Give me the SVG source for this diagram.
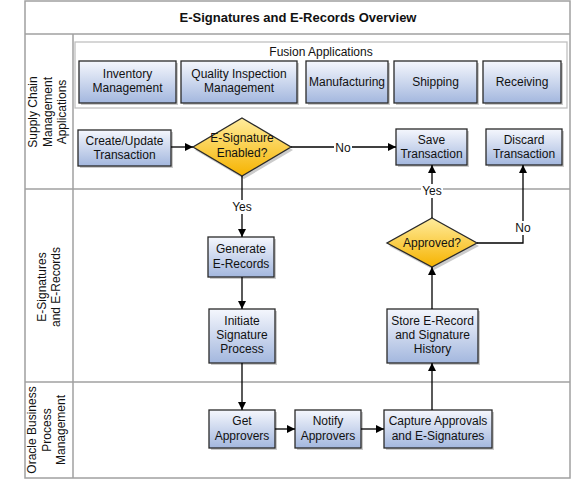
<svg xmlns="http://www.w3.org/2000/svg" width="572" height="479" viewBox="0 0 572 479">
<defs>
<linearGradient id="gBox" x1="0" y1="0" x2="0" y2="1">
<stop offset="0" stop-color="#f5f7fd"/>
<stop offset="1" stop-color="#a3b7de"/>
</linearGradient>
<linearGradient id="gDia" x1="0" y1="0" x2="0" y2="1">
<stop offset="0" stop-color="#ffec9c"/>
<stop offset="1" stop-color="#f6b300"/>
</linearGradient>
<marker id="arr" viewBox="0 0 10 10" refX="10" refY="5" markerWidth="8" markerHeight="8" markerUnits="userSpaceOnUse" orient="auto">
<path d="M0,0 L10,5 L0,10 z" fill="#000"/>
</marker>
</defs>
<style>
text{font-family:"Liberation Sans",Arial,sans-serif;font-size:12px;fill:#111;text-anchor:middle}
.title{font-size:13px;font-weight:bold}
.lane{fill:none;stroke:#a0a0a0;stroke-width:1.5}
.box{fill:url(#gBox);stroke:#2a2a2a;stroke-width:1.3}
.dia{fill:url(#gDia);stroke:#2a2a2a;stroke-width:1.3}
.sh{fill:#a8a8a8;opacity:0.6}
.con{fill:none;stroke:#000;stroke-width:1.3}
.lbl{fill:#fff}
</style>
<rect x="0" y="0" width="572" height="479" fill="#fff"/>
<g id="frame">
<rect class="lane" x="25" y="1" width="545" height="477"/>
<line class="lane" x1="25" y1="34" x2="570" y2="34"/>
<line class="lane" x1="73" y1="34" x2="73" y2="478"/>
<line class="lane" x1="25" y1="189" x2="570" y2="189"/>
<line class="lane" x1="25" y1="382" x2="570" y2="382"/>
<text class="title" x="298" y="22">E-Signatures and E-Records Overview</text>
</g>
<g id="lane-scm" transform="translate(49,112) rotate(-90)">
<text x="0" y="-11.7">Supply Chain</text>
<text x="0" y="2.8">Management</text>
<text x="0" y="17.3">Applications</text>
</g>
<g id="lane-es" transform="translate(49,287) rotate(-90)">
<text x="0" y="-3.5">E-Signatures</text>
<text x="0" y="11">and E-Records</text>
</g>
<g id="lane-bpm" transform="translate(49,430) rotate(-90)">
<text x="0" y="-13">Oracle Business</text>
<text x="0" y="1.5">Process</text>
<text x="0" y="16">Management</text>
</g>
<g id="fusion">
<rect x="75" y="42" width="492" height="66" fill="#fff" stroke="#c0c0c0" stroke-width="1.3"/>
<text x="321" y="56">Fusion Applications</text>
</g>
<g id="inventory">
<rect class="sh" x="81" y="63" width="97" height="42"/>
<rect class="box" x="79" y="61" width="97" height="42"/>
<text x="127.5" y="78">Inventory</text>
<text x="127.5" y="92">Management</text>
</g>
<g id="quality">
<rect class="sh" x="183" y="63" width="116" height="42"/>
<rect class="box" x="181" y="61" width="116" height="42"/>
<text x="239" y="78">Quality Inspection</text>
<text x="239" y="92">Management</text>
</g>
<g id="manufacturing">
<rect class="sh" x="308" y="63" width="82" height="42"/>
<rect class="box" x="306" y="61" width="82" height="42"/>
<text x="347" y="86">Manufacturing</text>
</g>
<g id="shipping">
<rect class="sh" x="396" y="63" width="83" height="42"/>
<rect class="box" x="394" y="61" width="83" height="42"/>
<text x="435.5" y="86">Shipping</text>
</g>
<g id="receiving">
<rect class="sh" x="485" y="63" width="78" height="42"/>
<rect class="box" x="483" y="61" width="78" height="42"/>
<text x="522" y="86">Receiving</text>
</g>
<g id="create">
<rect class="sh" x="80" y="132" width="93" height="36"/>
<rect class="box" x="78" y="130" width="93" height="36"/>
<text x="124.5" y="144.5">Create/Update</text>
<text x="124.5" y="159">Transaction</text>
</g>
<g id="esig-enabled">
<polygon class="sh" points="244,121 293,150 244,179 195,150"/>
<polygon class="dia" points="242,118 291,147 242,176 193,147"/>
<text x="242" y="142">E-Signature</text>
<text x="242" y="157">Enabled?</text>
</g>
<g id="save">
<rect class="sh" x="398" y="131" width="71" height="36"/>
<rect class="box" x="396" y="129" width="71" height="36"/>
<text x="431.5" y="143.5">Save</text>
<text x="431.5" y="158">Transaction</text>
</g>
<g id="discard">
<rect class="sh" x="488" y="131" width="76" height="36"/>
<rect class="box" x="486" y="129" width="76" height="36"/>
<text x="524" y="143.5">Discard</text>
<text x="524" y="158">Transaction</text>
</g>
<g id="generate">
<rect class="sh" x="210" y="239" width="66" height="40"/>
<rect class="box" x="208" y="237" width="66" height="40"/>
<text x="241" y="253">Generate</text>
<text x="241" y="267.5">E-Records</text>
</g>
<g id="initiate">
<rect class="sh" x="211" y="311" width="66" height="54"/>
<rect class="box" x="209" y="309" width="66" height="54"/>
<text x="242" y="325">Initiate</text>
<text x="242" y="339">Signature</text>
<text x="242" y="353">Process</text>
</g>
<g id="approved">
<polygon class="sh" points="434,221 479,246 434,270 389,246"/>
<polygon class="dia" points="432,218 477,243 432,267 387,243"/>
<text x="432" y="247">Approved?</text>
</g>
<g id="store">
<rect class="sh" x="389" y="311" width="91" height="54"/>
<rect class="box" x="387" y="309" width="91" height="54"/>
<text x="432.5" y="325">Store E-Record</text>
<text x="432.5" y="339">and Signature</text>
<text x="432.5" y="353">History</text>
</g>
<g id="get">
<rect class="sh" x="211" y="412" width="66" height="38"/>
<rect class="box" x="209" y="410" width="66" height="38"/>
<text x="242" y="425">Get</text>
<text x="242" y="439.5">Approvers</text>
</g>
<g id="notify">
<rect class="sh" x="297" y="412" width="66" height="38"/>
<rect class="box" x="295" y="410" width="66" height="38"/>
<text x="328" y="425">Notify</text>
<text x="328" y="439.5">Approvers</text>
</g>
<g id="capture">
<rect class="sh" x="386" y="412" width="108" height="38"/>
<rect class="box" x="384" y="410" width="108" height="38"/>
<text x="438" y="425">Capture Approvals</text>
<text x="438" y="439.5">and E-Signatures</text>
</g>
<g id="connectors">
<line class="con" x1="171" y1="147" x2="193" y2="147" marker-end="url(#arr)"/>
<line class="con" x1="291" y1="147" x2="396" y2="147" marker-end="url(#arr)"/>
<rect class="lbl" x="334" y="140" width="18" height="14"/>
<text x="343" y="151.5">No</text>
<line class="con" x1="242" y1="176" x2="242" y2="237" marker-end="url(#arr)"/>
<rect class="lbl" x="231" y="200" width="22" height="14"/>
<text x="242" y="211">Yes</text>
<line class="con" x1="242" y1="277" x2="242" y2="309" marker-end="url(#arr)"/>
<line class="con" x1="242" y1="363" x2="242" y2="410" marker-end="url(#arr)"/>
<line class="con" x1="275" y1="429" x2="295" y2="429" marker-end="url(#arr)"/>
<line class="con" x1="361" y1="429" x2="384" y2="429" marker-end="url(#arr)"/>
<line class="con" x1="432" y1="410" x2="432" y2="363" marker-end="url(#arr)"/>
<line class="con" x1="432" y1="309" x2="432" y2="267" marker-end="url(#arr)"/>
<line class="con" x1="432" y1="218" x2="432" y2="165" marker-end="url(#arr)"/>
<rect class="lbl" x="421" y="184" width="22" height="14"/>
<text x="432" y="195">Yes</text>
<polyline class="con" points="477,243 523,243 523,165" marker-end="url(#arr)"/>
<rect class="lbl" x="514" y="221" width="18" height="14"/>
<text x="523" y="232">No</text>
</g>
</svg>
